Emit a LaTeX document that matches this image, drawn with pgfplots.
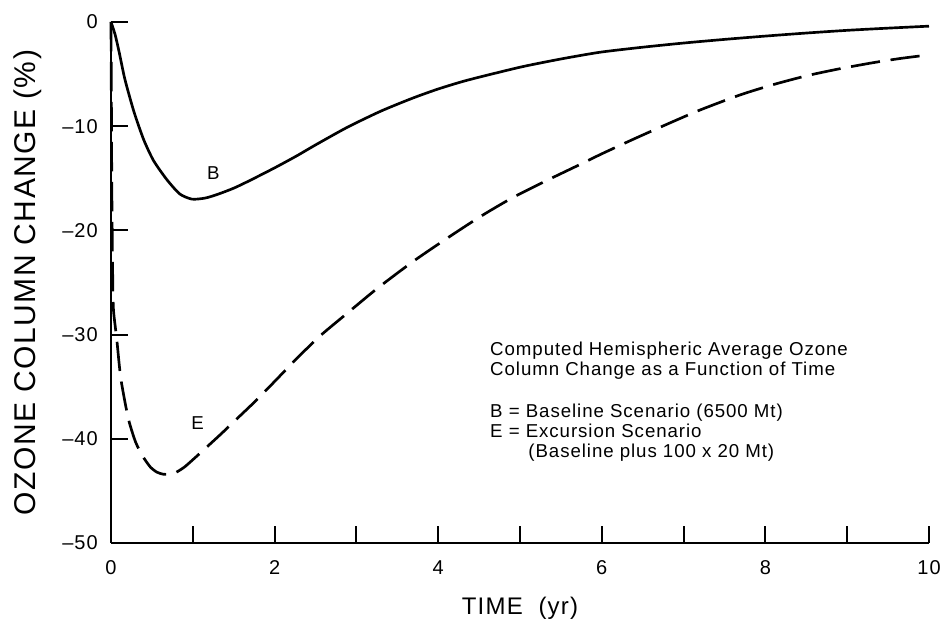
\documentclass[border=0pt]{standalone}
\usepackage{fontspec}
\setmainfont{Liberation Sans}[LetterSpace=5]
\usepackage{pgfplots}
\pgfplotsset{compat=1.18}
\begin{document}
\begin{tikzpicture}
\begin{axis}[
  scale only axis, width=613.5pt, height=390.75pt,
  xmin=0, xmax=10, ymin=-50, ymax=0,
  axis x line*=bottom, axis y line*=left,
  axis line style={line width=1.4pt, black},
  xtick={0,2,4,6,8,10}, minor xtick={1,3,5,7,9},
  xticklabels={0,2,4,6,8,10},
  ytick={-50,-40,-30,-20,-10,0},
  yticklabels={\textendash50,\textendash40,\textendash30,\textendash20,\textendash10,0},
  tick align=inside,
  major tick length=13pt, minor tick length=13pt,
  every tick/.append style={black, line width=1.4pt},
  every minor tick/.append style={black, line width=1.4pt},
  xticklabel style={font=\fontsize{15}{18}\selectfont, anchor=north, inner sep=0pt, yshift=-12.75pt},
  yticklabel style={font=\fontsize{15}{18}\selectfont, anchor=east, inner sep=0pt, xshift=-9.75pt},
  xlabel={TIME\ \ (yr)},
  xlabel style={font=\fontsize{18}{20}\selectfont, at={(axis description cs:0.5,-0.138)}, anchor=base},
  ylabel={OZONE COLUMN CHANGE (\%)},
  ylabel style={font=\fontsize{22.5}{24}\selectfont, at={(axis description cs:-0.092,0.5)}, anchor=base},
  clip=false,
]
% B: baseline scenario
\addplot[black, line width=2pt, smooth, tension=0.4] coordinates {
(0,0) (0.05,-1.2) (0.1,-2.9) (0.17,-5.5) (0.28,-8.6) (0.4,-11.3) (0.52,-13.3)
(0.68,-15.1) (0.84,-16.5) (0.99,-17.0) (1.15,-16.9) (1.3,-16.55) (1.5,-15.95)
(1.7,-15.2) (2.0,-14.0) (2.27,-12.85) (2.5,-11.8) (2.89,-10.1) (3.3,-8.55)
(3.69,-7.3) (4.0,-6.43) (4.35,-5.6) (5.0,-4.34) (5.5,-3.55) (5.98,-2.9)
(6.5,-2.42) (7.0,-2.02) (7.5,-1.67) (8.02,-1.34) (8.5,-1.06) (9.0,-0.8)
(9.5,-0.59) (10,-0.4)
};
% E: excursion scenario
\addplot[black, line width=2pt, smooth, tension=0.4, dash pattern=on 22pt off 8pt] coordinates {
(0,0) (0.005,-8) (0.01,-16) (0.02,-24) (0.03,-27.6) (0.07,-30.4) (0.12,-34.2)
(0.21,-38.0) (0.3,-40.3) (0.39,-41.7) (0.48,-42.7) (0.56,-43.2) (0.64,-43.4)
(0.72,-43.4) (0.8,-43.2) (0.9,-42.7) (1.03,-41.8) (1.17,-40.8) (1.35,-39.5)
(1.55,-38.0) (1.75,-36.5) (2.0,-34.5) (2.27,-32.3) (2.56,-30.1) (2.88,-28.0)
(3.25,-25.6) (3.69,-23.0) (4.1,-20.8) (4.51,-18.7) (4.9,-16.9) (5.33,-15.2)
(5.7,-13.8) (6.0,-12.65) (6.4,-11.2) (6.8,-9.8) (7.2,-8.45) (7.69,-7.0)
(8.1,-6.0) (8.51,-5.15) (8.9,-4.5) (9.32,-3.9) (9.65,-3.5) (9.95,-3.2)
};
\node[font=\fontsize{14}{16}\selectfont] at (axis cs:1.25,-14.5) {B};
\node[font=\fontsize{14}{16}\selectfont] at (axis cs:1.06,-38.5) {E};
\begin{scope}[every node/.style={font=\fontsize{14}{16}\selectfont, anchor=base west, inner sep=0pt}]
\node at (axis cs:4.633,-31.96) {Computed Hemispheric Average Ozone};
\node at (axis cs:4.633,-33.97) {Column Change as a Function of Time};
\node at (axis cs:4.633,-38.0) {B = Baseline Scenario (6500 Mt)};
\node at (axis cs:4.633,-39.92) {E = Excursion Scenario};
\node at (axis cs:5.10,-41.84) {(Baseline plus 100 x 20 Mt)};
\end{scope}
\end{axis}
\pgfresetboundingbox
\path[use as bounding box] (current axis.south west) ++(-83.25pt,-63pt) rectangle ++(707.25pt,470.25pt);
\end{tikzpicture}
\end{document}
